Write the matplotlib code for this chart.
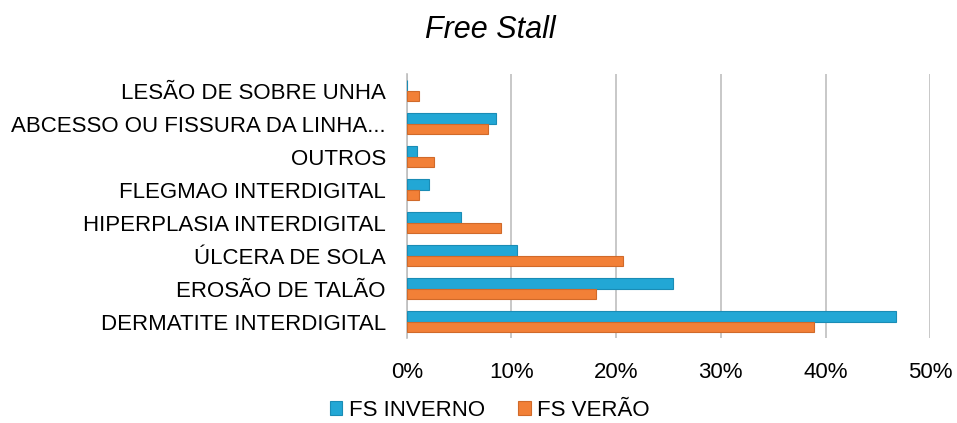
import matplotlib
matplotlib.use("Agg")
import matplotlib.pyplot as plt
import numpy as np
from matplotlib.ticker import PercentFormatter

plt.rcParams['font.family'] = ['Liberation Sans', 'DejaVu Sans']

categories = ["DERMATITE INTERDIGITAL", "EROSÃO DE TALÃO", "ÚLCERA DE SOLA",
              "HIPERPLASIA INTERDIGITAL", "FLEGMAO INTERDIGITAL", "OUTROS",
              "ABCESSO OU FISSURA DA LINHA...", "LESÃO DE SOBRE UNHA"]
inverno = [46.7, 25.4, 10.5, 5.2, 2.1, 1.0, 8.5, 0.0]
verao = [38.9, 18.1, 20.7, 9.0, 1.2, 2.6, 7.8, 1.2]
series_names = ["FS INVERNO", "FS VERÃO"]
xticks = [0, 10, 20, 30, 40, 50]

fig = plt.figure(figsize=(9.57, 4.23), dpi=100)
ax = fig.add_axes([0.425, 0.2, 0.547, 0.625])

y = np.arange(len(categories))
h = 0.32
ax.barh(y + h/2, inverno, height=h, color='#22A7D5', edgecolor='#1A8CB5', linewidth=0.8,
        label=series_names[0], zorder=3)
ax.barh(y - h/2, verao, height=h, color='#F28037', edgecolor='#D06A2A', linewidth=0.8,
        label=series_names[1], zorder=3)

ax.set_yticks(y)
ax.set_yticklabels(categories, fontsize=16)
ax.set_ylim(-0.5, len(categories) - 0.5)
ax.set_xlim(0, 50)
ax.set_xticks(xticks)
ax.xaxis.set_major_formatter(PercentFormatter(decimals=0))
ax.tick_params(axis='x', labelsize=16, length=0, pad=17)
ax.tick_params(axis='y', length=0, pad=15)
ax.grid(axis='x', color='#BFBFBF', linewidth=1.2, zorder=0)
for s in ['top', 'right', 'bottom']:
    ax.spines[s].set_visible(False)
ax.spines['left'].set_color('#BFBFBF')
ax.spines['left'].set_linewidth(1.2)

fig.text(0.512, 0.93, "Free Stall", fontsize=22, style='italic', ha='center', va='center')
fig.legend(loc='center', bbox_to_anchor=(0.512, 0.03), ncol=2, frameon=False, fontsize=16,
           handlelength=0.55, handleheight=0.55, handletextpad=0.3, columnspacing=1.5)

fig.savefig("out.png", dpi=100)
